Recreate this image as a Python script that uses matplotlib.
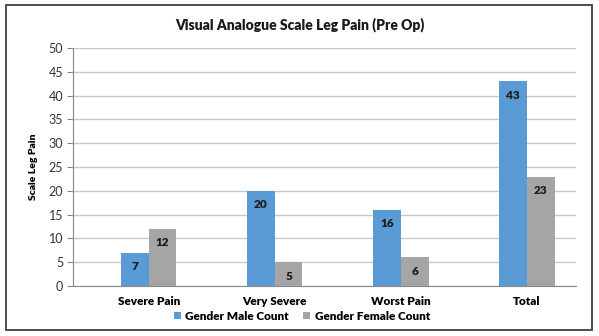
import numpy as np
import matplotlib.pyplot as plt
from matplotlib.patches import Rectangle

# data
categories = ['Severe Pain', 'Very Severe', 'Worst Pain', 'Total']
male_count = [7, 20, 16, 43]
female_count = [12, 5, 6, 23]

plt.rcParams['font.family'] = ['Lato', 'DejaVu Sans']

W, H = 599, 336
fig = plt.figure(figsize=(W / 100, H / 100), dpi=100)
fig.patch.set_facecolor('white')

# outer chart border
fig.patches.append(Rectangle((6 / W, 1 - 330 / H), 586 / W, 325 / H,
                             transform=fig.transFigure, fill=False,
                             edgecolor='#404040', linewidth=1.3))

# plot area in pixel coordinates
left, right, top, bottom = 73, 576, 48, 286
ax = fig.add_axes([left / W, 1 - bottom / H, (right - left) / W, (bottom - top) / H])

x = np.arange(len(categories))
bw = 0.22
b1 = ax.bar(x - bw / 2, male_count, bw, color='#5B9BD5', label='Gender Male Count', zorder=3)
b2 = ax.bar(x + bw / 2, female_count, bw, color='#A5A5A5', label='Gender Female Count', zorder=3)

# value labels inside the top of each bar
for bars in (b1, b2):
    for b in bars:
        ax.annotate(str(int(b.get_height())),
                    (b.get_x() + b.get_width() / 2, b.get_height()),
                    xytext=(0, -14), textcoords='offset pixels',
                    ha='center', va='center', fontsize=8.5, fontweight='heavy',
                    color='#1a1a1a', zorder=4)

ax.set_xlim(-0.6, 3.39)
ax.set_ylim(0, 50)
ax.set_yticks(range(0, 51, 5))
ax.yaxis.grid(True, color='#C8C8C8', linewidth=1)
ax.set_axisbelow(True)

ax.set_xticks(x)
ax.set_xticklabels(categories, fontsize=8.5, fontweight='heavy')
ax.tick_params(axis='x', length=0, pad=7)
ax.tick_params(axis='y', length=4, color='#888888', labelsize=9, labelcolor='#333333', pad=3)

for s in ['top', 'right']:
    ax.spines[s].set_visible(False)
for s in ['left', 'bottom']:
    ax.spines[s].set_color('#888888')

ax.set_ylabel('Scale Leg Pain', fontsize=7.5, fontweight='heavy', labelpad=8)

fig.text(0.5, 1 - 25 / H, 'Visual Analogue Scale Leg Pain (Pre Op)',
         ha='center', va='center', fontsize=10, fontweight='heavy', color='#1a1a1a')

fig.legend(loc='center', bbox_to_anchor=(302 / W, 1 - 316 / H), ncol=2, frameon=False,
           prop={'weight': 'heavy', 'size': 8.5}, handlelength=0.6, handleheight=0.6,
           handletextpad=0.4, columnspacing=1.2)

fig.savefig('out.png', dpi=100)
